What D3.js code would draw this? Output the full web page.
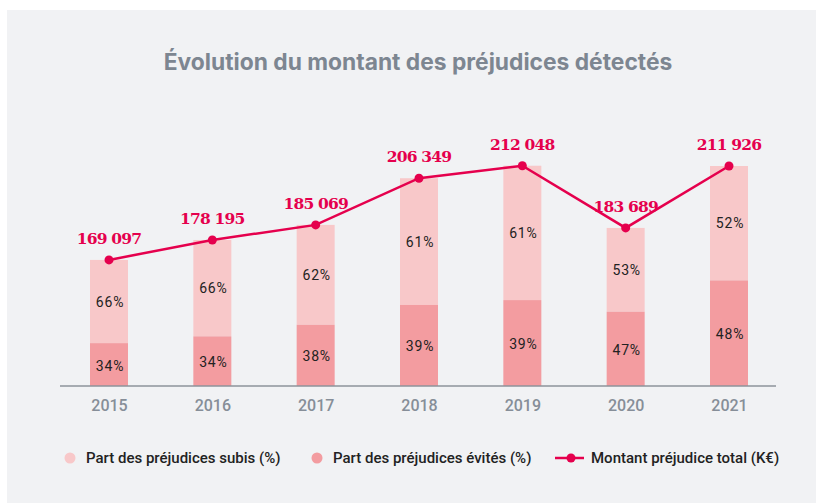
<!DOCTYPE html>
<html><head><meta charset="utf-8">
<script src="https://cdn.jsdelivr.net/npm/d3@7/dist/d3.min.js"></script>
<style>
html,body{margin:0;padding:0;background:#fff;}
svg{display:block;}
</style></head>
<body>
<svg id="chart" width="816" height="503"></svg>
<script>
const years = ["2015","2016","2017","2018","2019","2020","2021"];
const totals = [169097, 178195, 185069, 206349, 212048, 183689, 211926];
const totalLabels = ["169 097","178 195","185 069","206 349","212 048","183 689","211 926"];
const subisPct = [66, 66, 62, 61, 61, 53, 52];
const evitesPct = [34, 34, 38, 39, 39, 47, 48];
const legendLabels = ["Part des préjudices subis (%)", "Part des préjudices évités (%)", "Montant préjudice total (K€)"];
const title = "Évolution du montant des préjudices détectés";

const C = {bg:"#f1f2f4", light:"#f8c8c9", dark:"#f39ca0", line:"#e5004d", gray:"#7d8691", text:"#222"};

const svg = d3.select("#chart");
svg.append("rect").attr("x",7).attr("y",10).attr("width",809).attr("height",493).attr("fill",C.bg);

svg.append("text").attr("x",418).attr("y",70).attr("text-anchor","middle")
  .attr("font-family","Inter, Roboto, sans-serif").attr("font-weight",700)
  .attr("font-size",22.8).attr("fill",C.gray).text(title);

const x = d3.scalePoint().domain(years).range([109, 729]);
const y = d3.scaleLinear().domain([111600, 211926]).range([386, 166]);
const bw = 38;

const g = svg.append("g");
years.forEach((yr,i)=>{
  const top = y(totals[i]);
  const h = 386 - top;
  const splitY = 386 - h*evitesPct[i]/100;
  g.append("rect").attr("x",x(yr)-bw/2).attr("y",top).attr("width",bw).attr("height",splitY-top).attr("fill",C.light);
  g.append("rect").attr("x",x(yr)-bw/2).attr("y",splitY).attr("width",bw).attr("height",386-splitY).attr("fill",C.dark);
  g.append("text").attr("x",x(yr)+1).attr("y",(top+splitY)/2+5).attr("text-anchor","middle")
    .attr("font-family","Roboto, sans-serif").attr("font-size",14).attr("letter-spacing",0.8)
    .attr("fill",C.text).text(subisPct[i]+"%");
  g.append("text").attr("x",x(yr)+1).attr("y",(splitY+386)/2+6).attr("text-anchor","middle")
    .attr("font-family","Roboto, sans-serif").attr("font-size",14).attr("letter-spacing",0.8)
    .attr("fill",C.text).text(evitesPct[i]+"%");
});

// axis
const ax = svg.append("g").attr("transform","translate(0,386)")
  .call(d3.axisBottom(x).tickSize(0).tickPadding(10));
ax.select(".domain").remove();
ax.append("line").attr("x1",60).attr("x2",776).attr("y1",0).attr("y2",0).attr("stroke","#8d939b").attr("stroke-width",1.5);
ax.selectAll(".tick text").attr("font-family","Roboto, sans-serif").attr("font-size",16).attr("font-weight",500)
  .attr("fill","#868e98").attr("dy","0.95em");

// line
const line = d3.line().x((d,i)=>x(years[i])).y(d=>y(d));
svg.append("path").datum(totals).attr("d",line).attr("fill","none").attr("stroke",C.line).attr("stroke-width",2.5);
svg.selectAll("circle.pt").data(totals).enter().append("circle").attr("class","pt")
  .attr("cx",(d,i)=>x(years[i])).attr("cy",d=>y(d)).attr("r",4.5).attr("fill",C.line);
svg.selectAll("text.val").data(totals).enter().append("text").attr("class","val")
  .attr("x",(d,i)=>x(years[i])).attr("y",d=>y(d)-16).attr("text-anchor","middle")
  .attr("font-family","'DejaVu Serif', serif").attr("font-weight",700).attr("font-size",15.5)
  .attr("letter-spacing",-0.8).attr("fill",C.line).text((d,i)=>totalLabels[i]);

// legend
const lg = svg.append("g").attr("font-family","Roboto, sans-serif").attr("font-size",15).attr("font-weight",500).attr("fill",C.text);
lg.append("circle").attr("cx",70).attr("cy",458).attr("r",5.5).attr("fill",C.light);
lg.append("text").attr("x",86).attr("y",463).text(legendLabels[0]);
lg.append("circle").attr("cx",317).attr("cy",458).attr("r",5.5).attr("fill",C.dark);
lg.append("text").attr("x",333).attr("y",463).text(legendLabels[1]);
lg.append("line").attr("x1",555).attr("x2",584).attr("y1",458).attr("y2",458).attr("stroke",C.line).attr("stroke-width",2.5);
lg.append("circle").attr("cx",571).attr("cy",458).attr("r",4.5).attr("fill",C.line);
lg.append("text").attr("x",591).attr("y",463).text(legendLabels[2]);
</script>
</body></html>
